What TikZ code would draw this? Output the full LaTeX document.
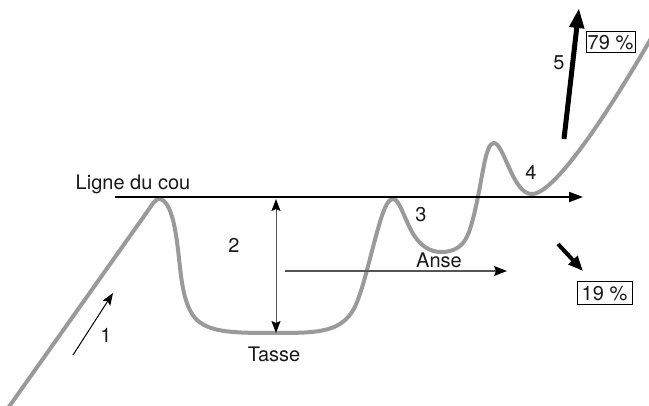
\documentclass[tikz,border=0pt]{standalone}
\usepackage{fontspec}
\setmainfont{TeX Gyre Heros}
\usetikzlibrary{arrows.meta}
\definecolor{curvegray}{HTML}{9A9A9A}
\definecolor{thingray}{HTML}{555555}
\tikzset{
  lbl/.style={font=\fontsize{20}{24}\selectfont, text=black!90, inner sep=0pt},
  pctbox/.style={lbl, draw=black, line width=1pt, inner sep=0pt},
  pricecurve/.style={draw=curvegray, line width=4pt, line cap=round, line join=round},
  thinarrow/.style={line width=1pt, -{Stealth[length=12pt,width=9pt,inset=2pt]}},
  thickarrow/.style={line width=5pt, black, -{Triangle[length=20pt,width=14pt]}},
}
\begin{document}
\begin{tikzpicture}[x=1pt,y=-1pt]
\clip (0,0) rectangle (649,406);
\useasboundingbox (0,0) rectangle (649,406);

% price curve
\draw[pricecurve] (6,411) -- (147,212)
  .. controls (152,205) and (155,199) .. (159,199)
  .. controls (166,199) and (172,210) .. (176,235)
  .. controls (181,265) and (180,300) .. (195,318)
  .. controls (208,332) and (230,333) .. (272,333)
  .. controls (315,333) and (338,333) .. (352,312)
  .. controls (362,297) and (370,255) .. (380,222)
  .. controls (385,205) and (389,199) .. (393,199)
  .. controls (399,199) and (403,215) .. (412,232)
  .. controls (420,246) and (430,252) .. (441,252)
  .. controls (455,252) and (464,246) .. (469,232)
  .. controls (476,212) and (480,185) .. (484,165)
  .. controls (487,150) and (490,143) .. (494,143)
  .. controls (499,143) and (504,157) .. (512,174)
  .. controls (518,186) and (524,194) .. (532,194)
  .. controls (555,194) and (610,110) .. (653,35);

% neckline
\coordinate (neckA) at (115,197);
\coordinate (neckB) at (583,197);
\draw[line width=2pt, black, -{Triangle[length=14pt,width=10pt]}] (neckA) -- (neckB);
\node[lbl, anchor=base] (neck) at (133,190) {Ligne du cou};

% arrow 1
\coordinate (a1s) at (73,355);
\coordinate (a1e) at (113,293);
\draw[thinarrow, black] (a1s) -- (a1e);
\node[lbl, anchor=base] (n1) at (106,343) {1};

% arrow 2 (cup depth)
\coordinate (a2t) at (276,199);
\coordinate (a2b) at (276,333);
\draw[line width=1pt, thingray, {Stealth[length=12pt,width=9pt,inset=2pt,black]}-{Stealth[length=12pt,width=9pt,inset=2pt,black]}] (a2t) -- (a2b);
\node[lbl, anchor=base] (n2) at (234,253) {2};
\node[lbl, anchor=base] (tasse) at (274,362) {Tasse};

% handle arrow
\coordinate (anS) at (285,271);
\coordinate (anE) at (507,271);
\draw[line width=1.5pt, thingray, -{Stealth[length=13pt,width=10pt,inset=2pt,black]}] (anS) -- (anE);
\node[lbl, anchor=base] (anse) at (439,268) {Anse};
\node[lbl, anchor=base] (n3) at (421,222) {3};
\node[lbl, anchor=base] (n4) at (531,180) {4};

% breakout arrows
\coordinate (b5s) at (564,139);
\coordinate (b5e) at (579,8);
\draw[thickarrow] (b5s) -- (b5e);
\node[lbl, anchor=base] (n5) at (559,70) {5};
\node[pctbox, minimum width=49pt, minimum height=21pt] (p79) at (610.5,42.5) {79 \%};

\coordinate (b6s) at (558,244);
\coordinate (b6e) at (583,271);
\draw[line width=4pt, black, -{Triangle[length=15pt,width=12pt]}] (b6s) -- (b6e);
\node[pctbox, minimum width=55pt, minimum height=23pt] (p19) at (604.5,293.5) {19 \%};
\end{tikzpicture}
\end{document}
